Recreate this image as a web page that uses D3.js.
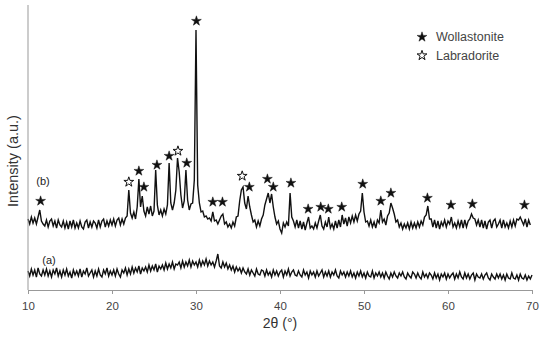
<!DOCTYPE html>
<html>
<head>
<meta charset="utf-8">
<script src="https://cdn.jsdelivr.net/npm/d3@7"></script>
<style>
  body { margin: 0; background: #fff; }
  text { font-family: "Liberation Sans", Arial, sans-serif; }
</style>
</head>
<body>
<script>
var w = 550;
var h = 340;

// 2theta grid: start + i*step
var thetaStart = 10;
var thetaStep = 0.2;

// pattern (b), glass-ceramic, 10.0 .. 69.8
var patternB = [
  71, 66, 73, 67, 72, 66, 73, 80, 69, 66,
  64, 70, 63, 69, 71, 64, 69, 62, 70, 65,
  63, 69, 62, 68, 61, 69, 63, 70, 62, 67,
  62, 69, 63, 61, 68, 70, 62, 68, 63, 69,
  67, 62, 70, 63, 69, 71, 63, 69, 64, 70,
  65, 71, 64, 70, 72, 65, 71, 66, 72, 74,
  100, 77, 72, 78, 71, 83, 111, 83, 94, 79,
  74, 83, 76, 84, 74, 79, 120, 85, 75, 80,
  74, 81, 76, 85, 127, 87, 80, 87, 100, 132,
  118, 95, 82, 89, 120, 90, 80, 86, 87, 110,
  260, 105, 87, 78, 79, 73, 74, 71, 72, 69,
  78, 69, 70, 66, 70, 74, 76, 66, 68, 63,
  66, 62, 68, 64, 73, 74, 89, 100, 103, 87,
  81, 94, 83, 75, 68, 70, 63, 69, 64, 71,
  75, 85, 91, 97, 87, 96, 83, 73, 66, 69,
  61, 57, 67, 63, 68, 64, 97, 73, 69, 63,
  70, 62, 69, 61, 68, 60, 67, 73, 62, 64,
  61, 67, 62, 69, 75, 64, 61, 68, 63, 73,
  62, 66, 61, 69, 62, 70, 63, 75, 66, 72,
  64, 73, 67, 74, 68, 75, 69, 76, 79, 97,
  78, 68, 69, 64, 70, 63, 68, 62, 70, 67,
  80, 68, 71, 65, 74, 77, 87, 82, 76, 68,
  70, 63, 67, 61, 66, 62, 67, 61, 68, 62,
  67, 62, 68, 63, 69, 65, 73, 75, 84, 71,
  71, 63, 70, 62, 69, 61, 68, 64, 70, 63,
  69, 66, 73, 63, 67, 62, 69, 63, 70, 62,
  70, 63, 69, 71, 76, 72, 71, 65, 70, 63,
  70, 62, 69, 61, 68, 70, 62, 69, 71, 63,
  66, 70, 62, 70, 63, 67, 62, 69, 63, 70,
  64, 71, 70, 73, 69, 65, 71, 63, 70, 65
];

// pattern (a), glass, 10.0 .. 70.0
var patternA = [
  19, 14, 21, 15, 20, 13, 22, 16, 14, 20,
  15, 21, 14, 19, 13, 20, 16, 22, 14, 19,
  13, 20, 15, 21, 14, 18, 12, 20, 15, 19,
  14, 21, 13, 19, 16, 22, 14, 17, 20, 13,
  19, 14, 21, 15, 13, 20, 16, 22, 14, 19,
  15, 20, 14, 21, 16, 13, 20, 17, 22, 15,
  21, 16, 23, 17, 22, 18, 24, 16, 22, 19,
  23, 18, 25, 19, 24, 20, 26, 18, 24, 21,
  25, 20, 27, 21, 26, 22, 28, 21, 26, 25,
  28, 22, 29, 23, 28, 24, 30, 23, 29, 25,
  28, 23, 30, 24, 29, 25, 31, 24, 29, 25,
  28, 23, 29, 36, 24, 22, 28, 23, 27, 21,
  25, 20, 24, 18, 23, 19, 22, 17, 22, 18,
  16, 21, 15, 20, 17, 14, 21, 16, 15, 20,
  19, 14, 20, 15, 18, 13, 20, 15, 19, 14,
  18, 20, 13, 19, 15, 21, 14, 18, 20, 15,
  14, 19, 15, 13, 20, 15, 18, 12, 19, 15,
  18, 13, 19, 14, 17, 20, 13, 18, 14, 19,
  13, 18, 15, 20, 14, 12, 19, 15, 18, 13,
  18, 14, 19, 13, 17, 12, 18, 14, 19, 13,
  17, 12, 18, 14, 13, 19, 12, 17, 14, 18,
  13, 17, 12, 18, 14, 11, 17, 13, 18, 14,
  12, 17, 14, 18, 13, 11, 17, 14, 12, 18,
  16, 12, 17, 13, 11, 18, 13, 16, 12, 17,
  15, 11, 17, 12, 16, 10, 16, 13, 17, 11,
  16, 12, 15, 17, 11, 16, 12, 18, 13, 11,
  17, 12, 16, 11, 15, 17, 10, 16, 13, 12,
  16, 11, 15, 17, 12, 10, 16, 13, 11, 16,
  12, 16, 11, 15, 10, 16, 12, 11, 17, 12,
  11, 15, 10, 16, 12, 11, 15, 10, 14, 11, 15
];

// phase markers above the peaks of (b)
var markerTheta = [11.5, 22.0, 23.2, 23.8, 25.35, 26.8, 27.85, 28.9, 30.05, 32.0, 33.15,
  35.5, 36.35, 38.5, 39.2, 41.3, 43.35, 44.85, 45.75, 47.35, 49.85, 52.0, 53.2,
  57.55, 60.35, 62.9, 69.1];
var markerLevel = [89, 108, 119, 103, 125, 134, 139, 127, 269, 88, 88,
  114, 103, 111, 103, 107, 81, 83, 81, 83, 106, 89, 97,
  92, 85, 86, 85];
var markerPhase = ["W", "L", "W", "W", "W", "W", "L", "W", "W", "W", "W",
  "L", "W", "W", "W", "W", "W", "W", "W", "W", "W", "W", "W",
  "W", "W", "W", "W"];

var phases = ["W", "L"];
var phaseNames = ["Wollastonite", "Labradorite"];

var xTicks = [10, 20, 30, 40, 50, 60, 70];

var svg = d3.select("body").append("svg").attr("width", w).attr("height", h);

var x = d3.scaleLinear().domain([10, 70]).range([28, 532]);
var y = d3.scaleLinear().domain([0, 285]).range([290, 5]);

function toPoints(arr) {
  return arr.map(function(v, i) { return [thetaStart + i * thetaStep, v]; });
}

var line = d3.line()
  .x(function(d) { return x(d[0]); })
  .y(function(d) { return y(d[1]); });

svg.append("path").datum(toPoints(patternA))
  .attr("d", line).attr("fill", "none").attr("stroke", "#111").attr("stroke-width", 1.4);
svg.append("path").datum(toPoints(patternB))
  .attr("d", line).attr("fill", "none").attr("stroke", "#111").attr("stroke-width", 1.4);

// axes
var gx = svg.append("g").attr("transform", "translate(0," + y(0) + ")")
  .call(d3.axisBottom(x).tickValues(xTicks).tickSize(4).tickSizeOuter(0).tickPadding(8));
gx.select(".domain").attr("stroke", "#999");
gx.selectAll(".tick line").attr("stroke", "#999");
gx.selectAll(".tick text").attr("fill", "#444").attr("font-size", "11.5px")
  .attr("font-family", "Liberation Sans, Arial, sans-serif");

svg.append("line").attr("x1", x(10)).attr("x2", x(10)).attr("y1", y(285)).attr("y2", y(0))
  .attr("stroke", "#999");

svg.append("text").attr("x", (x(10) + x(70)) / 2).attr("y", 328)
  .attr("text-anchor", "middle").attr("font-size", "14px").attr("fill", "#333")
  .text("2θ (°)");

svg.append("text").attr("transform", "translate(18,161) rotate(-90)")
  .attr("text-anchor", "middle").attr("font-size", "14.5px").attr("fill", "#333")
  .text("Intensity (a.u.)");

// pattern labels
svg.append("text").attr("x", 43).attr("y", 185).attr("text-anchor", "middle")
  .attr("font-size", "11px").attr("fill", "#222").text("(b)");
svg.append("text").attr("x", 49).attr("y", 264).attr("text-anchor", "middle")
  .attr("font-size", "11px").attr("fill", "#222").text("(a)");

var star = d3.symbol().type(d3.symbolStar).size(30);

svg.append("g").selectAll("path")
  .data(markerTheta)
  .enter().append("path")
  .attr("d", star)
  .attr("transform", function(d, i) { return "translate(" + x(d) + "," + y(markerLevel[i]) + ")"; })
  .attr("fill", function(d, i) { return markerPhase[i] === "W" ? "#111" : "#fff"; })
  .attr("stroke", "#111")
  .attr("stroke-width", function(d, i) { return markerPhase[i] === "W" ? 0.5 : 1; });

// legend
var legend = svg.append("g").attr("transform", "translate(422,37)");
phases.forEach(function(p, i) {
  legend.append("path").attr("d", star)
    .attr("transform", "translate(0," + (i * 18.5) + ")")
    .attr("fill", p === "W" ? "#111" : "#fff")
    .attr("stroke", "#111").attr("stroke-width", p === "W" ? 0.5 : 1);
  legend.append("text").attr("x", 14).attr("y", i * 18.5).attr("dy", "0.35em")
    .attr("font-size", "12.5px").attr("fill", "#444").text(phaseNames[i]);
});
</script>
</body>
</html>
